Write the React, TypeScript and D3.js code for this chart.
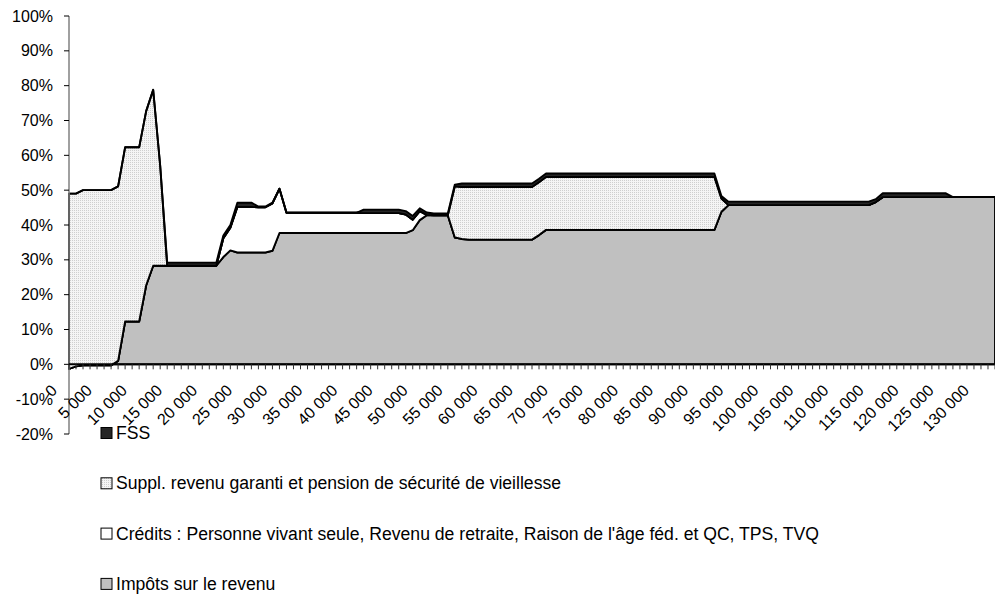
import React from "react";
import * as d3 from "d3";

// revenu (en milliers de $) - une catégorie par 1 000 $
const incomeK = [
  0, 1, 2, 3, 4, 5, 6, 7, 8, 9, 10, 11, 12, 13, 14, 15, 16, 17, 18, 19,
  20, 21, 22, 23, 24, 25, 26, 27, 28, 29, 30, 31, 32, 33, 34, 35, 36, 37, 38, 39,
  40, 41, 42, 43, 44, 45, 46, 47, 48, 49, 50, 51, 52, 53, 54, 55, 56, 57, 58, 59,
  60, 61, 62, 63, 64, 65, 66, 67, 68, 69, 70, 71, 72, 73, 74, 75, 76, 77, 78, 79,
  80, 81, 82, 83, 84, 85, 86, 87, 88, 89, 90, 91, 92, 93, 94, 95, 96, 97, 98, 99,
  100, 101, 102, 103, 104, 105, 106, 107, 108, 109, 110, 111, 112, 113, 114, 115, 116, 117, 118, 119,
  120, 121, 122, 123, 124, 125, 126, 127, 128, 129, 130, 131, 132,
];

// taux marginaux (%) par composante
const impots = [
  -1.3, -0.6, -0.3, -0.3, -0.3, -0.3, -0.3, 1.0, 12.3, 12.3,
  12.3, 22.7, 28.3, 28.3, 28.3, 28.3, 28.3, 28.3, 28.3, 28.3,
  28.3, 28.3, 30.8, 32.7, 32.1, 32.1, 32.1, 32.1, 32.1, 32.6,
  37.7, 37.7, 37.7, 37.7, 37.7, 37.7, 37.7, 37.7, 37.7, 37.7,
  37.7, 37.7, 37.7, 37.7, 37.7, 37.7, 37.7, 37.7, 37.7, 38.5,
  41.4, 42.8, 42.8, 42.8, 42.8, 36.4, 36.0, 35.8, 35.8, 35.8,
  35.8, 35.8, 35.8, 35.8, 35.8, 35.8, 35.8, 37.1, 38.6, 38.6,
  38.6, 38.6, 38.6, 38.6, 38.6, 38.6, 38.6, 38.6, 38.6, 38.6,
  38.6, 38.6, 38.6, 38.6, 38.6, 38.6, 38.6, 38.6, 38.6, 38.6,
  38.6, 38.6, 38.6, 43.8, 45.7, 45.7, 45.7, 45.7, 45.7, 45.7,
  45.7, 45.7, 45.7, 45.7, 45.7, 45.7, 45.7, 45.7, 45.7, 45.7,
  45.7, 45.7, 45.7, 45.7, 45.7, 46.6, 48.0, 48.0, 48.0, 48.0,
  48.0, 48.0, 48.0, 48.0, 48.0, 48.0, 48.0, 48.0, 48.0, 48.0,
  48.0, 48.0, 48.0,
];

const credits = [
  0, 0, 0, 0, 0, 0, 0, 0, 0, 0,
  0, 0, 0, 0, 0, 0, 0, 0, 0, 0,
  0, 0, 5.4, 6.5, 13.1, 13.1, 13.1, 13.0, 13.0, 13.6,
  12.7, 5.8, 5.8, 5.8, 5.8, 5.8, 5.8, 5.8, 5.8, 5.8,
  5.8, 5.8, 5.7, 5.7, 5.7, 5.7, 5.7, 5.7, 5.3, 3.0,
  2.6, 0.1, 0, 0, 0, 0, 0, 0, 0, 0,
  0, 0, 0, 0, 0, 0, 0, 0, 0, 0,
  0, 0, 0, 0, 0, 0, 0, 0, 0, 0,
  0, 0, 0, 0, 0, 0, 0, 0, 0, 0,
  0, 0, 0, 0, 0, 0, 0, 0, 0, 0,
  0, 0, 0, 0, 0, 0, 0, 0, 0, 0,
  0, 0, 0, 0, 0, 0, 0, 0, 0, 0,
  0, 0, 0, 0, 0, 0, 0, 0, 0, 0,
  0, 0, 0,
];

const suppl = [
  50.3, 49.6, 50.3, 50.3, 50.3, 50.3, 50.3, 50.1, 50.0, 50.0,
  50.0, 50.0, 50.5, 28.7, 0, 0, 0, 0, 0, 0,
  0, 0, 0, 0, 0, 0, 0, 0, 0, 0,
  0, 0, 0, 0, 0, 0, 0, 0, 0, 0,
  0, 0, 0, 0, 0, 0, 0, 0, 0, 0,
  0, 0, 0, 0, 0, 14.7, 14.9, 15.1, 15.1, 15.1,
  15.1, 15.1, 15.1, 15.1, 15.1, 15.1, 15.1, 15.2, 15.2, 15.2,
  15.2, 15.2, 15.2, 15.2, 15.2, 15.2, 15.2, 15.2, 15.2, 15.2,
  15.2, 15.2, 15.2, 15.2, 15.2, 15.2, 15.2, 15.2, 15.2, 15.2,
  15.2, 15.2, 15.2, 3.8, 0, 0, 0, 0, 0, 0,
  0, 0, 0, 0, 0, 0, 0, 0, 0, 0,
  0, 0, 0, 0, 0, 0, 0, 0, 0, 0,
  0, 0, 0, 0, 0, 0, 0, 0, 0, 0,
  0, 0, 0,
];

const fss = [
  0, 0, 0, 0, 0, 0, 0, 0, 0, 0,
  0, 0, 0, 0, 0.9, 0.9, 0.9, 0.9, 0.9, 0.9,
  0.9, 0.9, 0.8, 0.8, 1.2, 1.2, 1.2, 0.2, 0.2, 0.2,
  0, 0, 0, 0, 0, 0, 0, 0, 0, 0,
  0, 0, 1.0, 1.0, 1.0, 1.0, 1.0, 1.0, 1.0, 1.1,
  0.8, 0.7, 0.5, 0.5, 0.5, 0.5, 1.0, 1.0, 1.0, 1.0,
  1.0, 1.0, 1.0, 1.0, 1.0, 1.0, 1.0, 1.0, 1.0, 1.0,
  1.0, 1.0, 1.0, 1.0, 1.0, 1.0, 1.0, 1.0, 1.0, 1.0,
  1.0, 1.0, 1.0, 1.0, 1.0, 1.0, 1.0, 1.0, 1.0, 1.0,
  1.0, 1.0, 1.0, 0.7, 1.0, 1.0, 1.0, 1.0, 1.0, 1.0,
  1.0, 1.0, 1.0, 1.0, 1.0, 1.0, 1.0, 1.0, 1.0, 1.0,
  1.0, 1.0, 1.0, 1.0, 1.0, 0.8, 1.1, 1.1, 1.1, 1.1,
  1.1, 1.1, 1.1, 1.1, 1.1, 1.1, 0, 0, 0, 0,
  0, 0, 0,
];

const seriesKeys = ["impots", "credits", "suppl", "fss"];

// légende (de haut en bas)
const legendItems = [
  { key: "fss", label: "FSS" },
  { key: "suppl", label: "Suppl. revenu garanti et pension de sécurité de vieillesse" },
  { key: "credits", label: "Crédits : Personne vivant seule, Revenu de retraite, Raison de l'âge féd. et QC, TPS, TVQ" },
  { key: "impots", label: "Impôts sur le revenu" },
];

const xTickValues = [0, 5, 10, 15, 20, 25, 30, 35, 40, 45, 50, 55, 60, 65, 70, 75, 80, 85, 90, 95, 100, 105, 110, 115, 120, 125, 130];
const xTickLabels = [
  "0", "5 000", "10 000", "15 000", "20 000", "25 000", "30 000", "35 000", "40 000",
  "45 000", "50 000", "55 000", "60 000", "65 000", "70 000", "75 000", "80 000",
  "85 000", "90 000", "95 000", "100 000", "105 000", "110 000", "115 000",
  "120 000", "125 000", "130 000",
];
const yTickValues = [-20, -10, 0, 10, 20, 30, 40, 50, 60, 70, 80, 90, 100];
const yTickLabels = ["-20%", "-10%", "0%", "10%", "20%", "30%", "40%", "50%", "60%", "70%", "80%", "90%", "100%"];

const fills = {
  impots: "#C0C0C0",
  credits: "#FFFFFF",
  suppl: "url(#dots)",
  fss: "#262626",
};

const FONT = "'Liberation Sans', Arial, sans-serif";

export default function App() {
  const width = 995;
  const height = 594;
  const left = 69;
  const right = 995;
  const top = 16;
  const bottom = 434;

  const rows = incomeK.map((k, i) => ({
    k,
    impots: impots[i],
    credits: credits[i],
    suppl: suppl[i],
    fss: fss[i],
  }));

  const x = d3.scalePoint().domain(incomeK).range([left, right]);
  const y = d3.scaleLinear().domain([-20, 100]).range([bottom, top]);

  const stacked = d3.stack().keys(seriesKeys).offset(d3.stackOffsetNone)(rows);

  const area = d3
    .area()
    .x((d) => x(d.data.k))
    .y0((d) => y(d[0]))
    .y1((d) => y(d[1]));

  const y0 = y(0);

  return (
    <div style={{ position: "absolute", left: 0, top: 0, background: "#fff" }}>
      <svg width={width} height={height} style={{ display: "block", fontFamily: FONT }}>
        <defs>
          <pattern id="dots" width="2" height="2" patternUnits="userSpaceOnUse">
            <rect width="2" height="2" fill="#F5F5F5" />
            <rect width="1" height="1" fill="#CFCFCF" />
          </pattern>
        </defs>

        {/* aires empilées */}
        {stacked.map((s) => (
          <path
            key={s.key}
            d={area(s)}
            fill={fills[s.key]}
            stroke="#000"
            strokeWidth={1.9}
            strokeLinejoin="round"
          />
        ))}

        {/* axe Y */}
        <line x1={left} x2={left} y1={top} y2={bottom} stroke="#808080" strokeWidth={1.5} />
        {yTickValues.map((v, i) => (
          <g key={v}>
            <line x1={left - 5} x2={left} y1={y(v)} y2={y(v)} stroke="#000" strokeWidth={1} />
            <text
              x={53}
              y={y(v)}
              textAnchor="end"
              dominantBaseline="central"
              fontSize={16}
              fill="#000"
            >
              {yTickLabels[i]}
            </text>
          </g>
        ))}

        {/* axe X (à 0 %) */}
        <line x1={left} x2={right} y1={y0} y2={y0} stroke="#000" strokeWidth={2} />
        {incomeK.map((k) => (
          <line key={k} x1={x(k)} x2={x(k)} y1={y0} y2={y0 + 5} stroke="#333" strokeWidth={1} />
        ))}
        {xTickValues.map((k, i) => (
          <text
            key={k}
            transform={`translate(${x(k) - 11},${y0 + 27}) rotate(-45)`}
            textAnchor="end"
            fontSize={16}
            fill="#000"
          >
            {xTickLabels[i]}
          </text>
        ))}

        {/* légende */}
        {legendItems.map((item, i) => {
          const cy = 433 + i * 50.3;
          return (
            <g key={item.key}>
              <rect
                x={101}
                y={cy - 5.5}
                width={11}
                height={11}
                fill={fills[item.key]}
                stroke="#000"
                strokeWidth={1}
              />
              <text x={116} y={cy} dominantBaseline="central" fontSize={17.6} fill="#000">
                {item.label}
              </text>
            </g>
          );
        })}
      </svg>
    </div>
  );
}
